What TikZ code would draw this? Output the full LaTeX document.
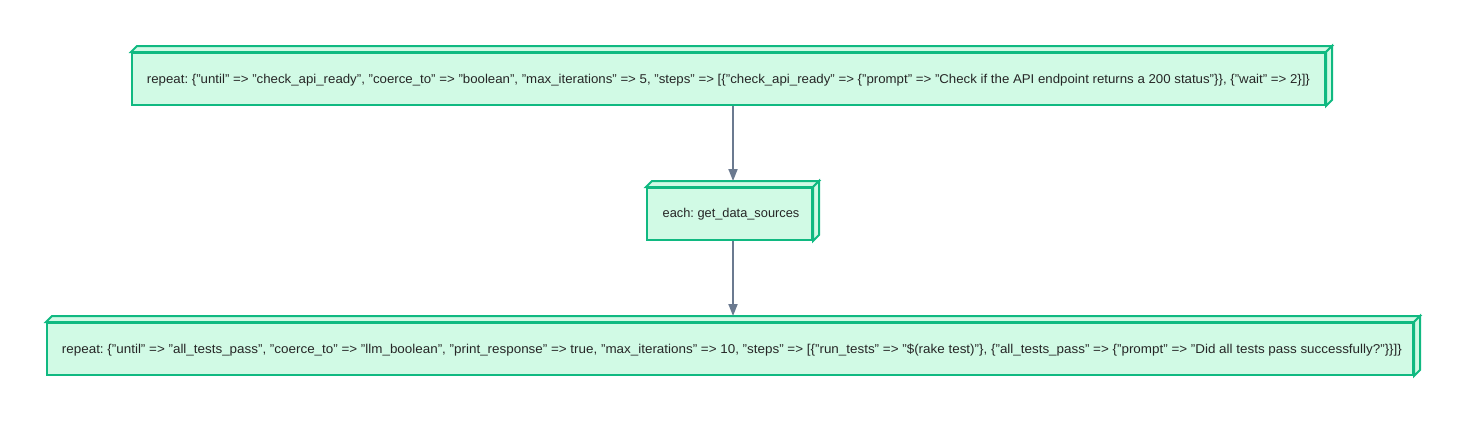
\documentclass[tikz,border=0pt]{standalone}
\usepackage{fontspec}
\setmainfont{Liberation Sans}
\definecolor{boxfill}{HTML}{D1FAE5}
\definecolor{boxdraw}{HTML}{10B981}
\definecolor{edgecol}{HTML}{6B7A90}
\usetikzlibrary{arrows.meta}
\frenchspacing
\begin{document}
\begin{tikzpicture}[x=1pt,y=-1pt,
  cube/.style={draw=boxdraw, fill=boxfill, line width=2pt, minimum height=52pt, inner sep=0pt},
  face/.style={draw=boxdraw, fill=boxfill, line width=2pt, line join=miter},
  lbl/.style={font=\fontsize{12.8}{15}\selectfont, text=black!85, inner sep=0pt},
  flow/.style={draw=edgecol, line width=1.8pt, -{Triangle[length=12pt,width=9pt]}}]
\useasboundingbox (0,0) rectangle (1463,423);
\def\d{6}
\coordinate (axis) at (733,0);
\node[cube, minimum width=1193pt] (a) at (728.5,79) {};
\node[cube, minimum width=165pt] (b) at (729.5,214) {};
\node[cube, minimum width=1366pt] (c) at (730,349) {};
\foreach \n in {a,b,c}{
  \path[face] (\n.north west) -- ++(\d,-\d) -- ([shift={(\d,-\d)}]\n.north east) -- (\n.north east) -- cycle;
  \path[face] (\n.north east) -- ++(\d,-\d) -- ([shift={(\d,-\d)}]\n.south east) -- (\n.south east) -- cycle;
}
\node[lbl] (ta) at (728.5,80) {\resizebox{1163pt}{\height}{repeat: \{"until" => "check\_api\_ready", "coerce\_to" => "boolean", "max\_iterations" => 5, "steps" => [\{"check\_api\_ready" => \{"prompt" => "Check if the API endpoint returns a 200 status"\}\}, \{"wait" => 2\}]\}}};
\node[lbl] (tb) at (731,214) {each: get\_data\_sources};
\node[lbl] (tc) at (732,350) {\resizebox{1340pt}{\height}{repeat: \{"until" => "all\_tests\_pass", "coerce\_to" => "llm\_boolean", "print\_response" => true, "max\_iterations" => 10, "steps" => [\{"run\_tests" => "\$(rake test)"\}, \{"all\_tests\_pass" => \{"prompt" => "Did all tests pass successfully?"\}\}]\}}};
\draw[flow] (a.south -| axis) -- ([yshift=6pt]b.north -| axis);
\draw[flow] (b.south -| axis) -- ([yshift=6pt]c.north -| axis);
\end{tikzpicture}
\end{document}
